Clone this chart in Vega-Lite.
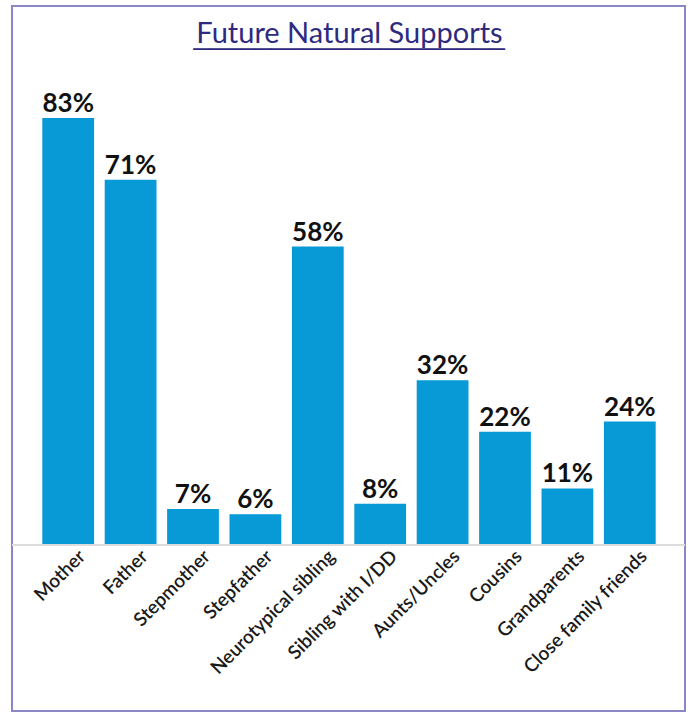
{
  "$schema": "https://vega.github.io/schema/vega-lite/v6.json",
  "width": 673,
  "height": 705,
  "autosize": {"type": "none"},
  "padding": {"left": 12, "top": 6, "right": 4, "bottom": 2},
  "background": "white",
  "config": {
    "view": {"stroke": "#8b86c6", "strokeWidth": 2},
    "font": "Lato"
  },
  "data": {
    "values": [
      {"category": "Mother", "share": 0.83},
      {"category": "Father", "share": 0.71},
      {"category": "Stepmother", "share": 0.07},
      {"category": "Stepfather", "share": 0.06},
      {"category": "Neurotypical sibling", "share": 0.58},
      {"category": "Sibling with I/DD", "share": 0.08},
      {"category": "Aunts/Uncles", "share": 0.32},
      {"category": "Cousins", "share": 0.22},
      {"category": "Grandparents", "share": 0.11},
      {"category": "Close family friends", "share": 0.24}
    ]
  },
  "encoding": {
    "x": {
      "field": "category",
      "type": "nominal",
      "sort": null,
      "scale": {"range": [25, 649], "paddingInner": 0.17, "paddingOuter": 0.085},
      "axis": {
        "title": "Future Natural Supports",
        "titleFont": "Lato",
        "titleFontSize": 29,
        "titleFontWeight": "normal",
        "titleColor": "#2e2a80",
        "titleAlign": "center",
        "titleBaseline": "alphabetic",
        "titleX": 337,
        "titleY": -503,
        "domain": false,
        "ticks": false,
        "labelAngle": -45,
        "labelAlign": "right",
        "labelBaseline": "middle",
        "labelFont": "Lato",
        "labelFontSize": 19,
        "labelFontWeight": 600,
        "labelColor": "#1a1a1a",
        "labelPadding": 8,
        "labelOffset": 14,
        "offset": -166,
        "labelOverlap": false
      }
    },
    "y": {
      "field": "share",
      "type": "quantitative",
      "scale": {"domain": [0, 0.83], "range": [539, 112], "nice": false},
      "axis": {
        "title": "____________________",
        "titleFont": "Liberation Sans",
        "titleFontSize": 28,
        "titleFontWeight": "normal",
        "titleColor": "#2e2a80",
        "titleAngle": 0,
        "titleAlign": "left",
        "titleBaseline": "alphabetic",
        "titleX": 181,
        "titleY": 37,
        "labels": false,
        "ticks": false,
        "domain": false,
        "grid": false
      }
    }
  },
  "layer": [
    {"mark": {"type": "bar", "color": "#079ad7"}},
    {
      "mark": {"type": "rule", "color": "#dddddd", "strokeWidth": 1.5},
      "encoding": {"x": null, "y": {"datum": 0, "type": "quantitative"}}
    },
    {
      "mark": {"type": "text", "font": "Lato", "fontWeight": "bold", "fontSize": 26, "color": "#111111", "baseline": "alphabetic", "dy": -6},
      "encoding": {"text": {"field": "share", "type": "quantitative", "format": ".0%"}}
    }
  ]
}
